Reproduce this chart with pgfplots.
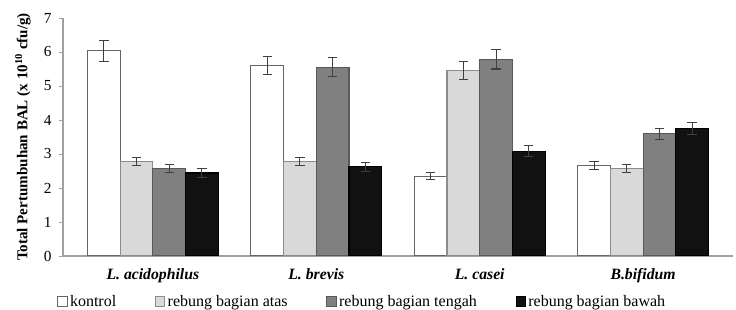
\documentclass[border=0pt]{standalone}
\usepackage{pgfplots}
\pgfplotsset{compat=1.18}
\usepackage{fontspec}
\setmainfont{Liberation Serif}
\definecolor{c1}{HTML}{FFFFFF}
\definecolor{c2}{HTML}{D9D9D9}
\definecolor{c3}{HTML}{808080}
\definecolor{c4}{HTML}{111111}
\definecolor{axgray}{HTML}{A0A0A0}
\begin{document}
\begin{tikzpicture}
\begin{axis}[
  scale only axis,
  width=502.5pt, height=178.5pt,
  ybar=0pt, bar width=0.2,
  xmin=-0.55, xmax=3.55,
  ymin=0, ymax=7,
  ytick={0,1,...,7},
  xtick=data,
  xticklabels={L. acidophilus, L. brevis, L. casei, B.bifidum},
  xticklabel style={font=\bfseries\itshape\fontsize{11.8}{13}\selectfont, yshift=-3pt},
  yticklabel style={font=\fontsize{11.5}{13}\selectfont, xshift=-2pt},
  /pgf/number format/assume math mode=true,
  axis x line*=bottom, axis y line*=left,
  axis line style={axgray, line width=0.8pt},
  x axis line style={-}, y axis line style={-},
  major tick length=3pt,
  ytick style={axgray}, xtick style={draw=none},
  tick align=outside,
  ylabel={\textbf{Total Pertumbuhan BAL (x 10\textsuperscript{10} cfu/g)}},
  ylabel style={font=\fontsize{11.3}{13}\selectfont, yshift=3pt},
  error bars/y dir=both, error bars/y explicit,
  error bars/error bar style={black!75, line width=0.8pt},
  error bars/error mark options={rotate=90, mark size=3.5pt, black!75, line width=0.8pt},
  legend columns=4,
  legend style={at={(rel axis cs:-0.015,0)}, anchor=north west, yshift=-25.5pt, draw=none, fill=none,
    font=\fontsize{12}{13}\selectfont,
    /tikz/every even column/.append style={column sep=27pt}},
  legend image code/.code={\draw[#1, line width=0.6pt] (0pt,-3pt) rectangle (7pt,4pt);},
]
\addplot[fill=c1, draw=black!60, line width=0.8pt] coordinates {(0,6.04) +- (0,0.31) (1,5.60) +- (0,0.27) (2,2.35) +- (0,0.10) (3,2.66) +- (0,0.11)};
\addplot[fill=c2, draw=black!45, line width=0.8pt] coordinates {(0,2.78) +- (0,0.13) (1,2.77) +- (0,0.12) (2,5.45) +- (0,0.27) (3,2.57) +- (0,0.11)};
\addplot[fill=c3, draw=black!65, line width=0.8pt] coordinates {(0,2.58) +- (0,0.12) (1,5.55) +- (0,0.28) (2,5.78) +- (0,0.28) (3,3.59) +- (0,0.16)};
\addplot[fill=c4, draw=black, line width=0.8pt] coordinates {(0,2.44) +- (0,0.13) (1,2.62) +- (0,0.13) (2,3.08) +- (0,0.16) (3,3.75) +- (0,0.17)};
\legend{kontrol, rebung bagian atas, rebung bagian tengah, rebung bagian bawah}
\coordinate (bl) at (rel axis cs:0,0);
\coordinate (tr) at (rel axis cs:1,1);
\end{axis}
\pgfresetboundingbox
\path[use as bounding box] ([shift={(-47.25pt,-40.5pt)}]bl) rectangle ([shift={(2.25pt,13.5pt)}]tr);
\end{tikzpicture}
\end{document}
